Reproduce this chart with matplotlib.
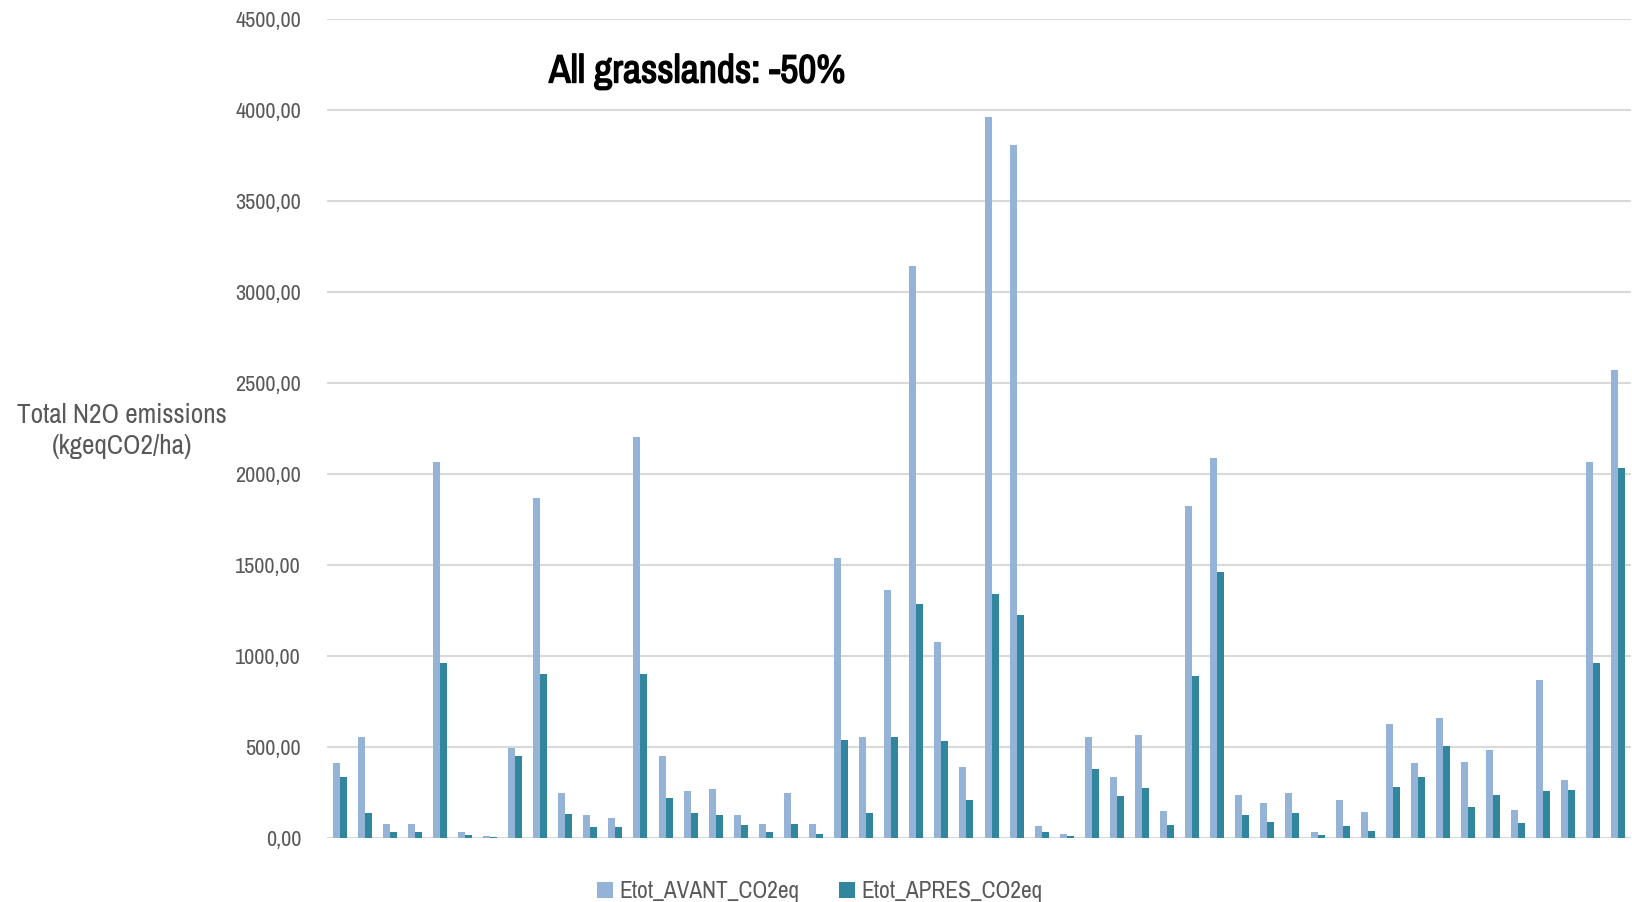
import numpy as np
import matplotlib
matplotlib.use("Agg")
import matplotlib.pyplot as plt
import matplotlib.patheffects as pe
from matplotlib import font_manager as fm
from matplotlib.ticker import FuncFormatter

# Values (kgeqCO2/ha), one pair per parcel
avant = [412, 555, 77, 77, 2070, 33, 13, 498, 1872, 251,
         126, 112, 2206, 451, 262, 273, 128, 77, 249, 79,
         1539, 555, 1365, 3145, 1081, 392, 3962, 3807, 66, 22,
         559, 335, 568, 150, 1827, 2089, 240, 194, 251, 33,
         213, 147, 628, 412, 660, 421, 485, 156, 870, 321,
         2068, 2572]
apres = [335, 137, 35, 35, 964, 16, 5, 454, 903, 134,
         60, 64, 903, 224, 141, 128, 73, 35, 77, 24,
         539, 137, 557, 1286, 535, 211, 1343, 1227, 35, 13,
         379, 231, 277, 75, 890, 1464, 128, 90, 139, 16,
         66, 40, 280, 335, 507, 174, 240, 84, 258, 264,
         964, 2034]
labels = ["Etot_AVANT_CO2eq", "Etot_APRES_CO2eq"]
colors = ["#95B3D7", "#31859C"]

# look for a narrow face, the reference uses a condensed font
fam, stretch = 'Roboto', 'normal'
for f in fm.fontManager.ttflist:
    st = str(f.stretch)
    if 'Condensed' in f.name or 'Narrow' in f.name:
        fam, stretch = f.name, 'normal'
        break
    if 'condensed' in st and f.name in ('DejaVu Sans', 'Roboto', 'Open Sans', 'Noto Sans'):
        fam, stretch = f.name, 'condensed'
plt.rcParams['font.family'] = [fam, 'DejaVu Sans']
plt.rcParams['font.stretch'] = stretch


def is_bold(f):
    wt = f.weight
    if isinstance(wt, str):
        return wt in ('bold', 'demibold', 'semibold')
    return 600 <= wt <= 700


# bold face of the same family only
bold_file = None
for f in fm.fontManager.ttflist:
    if f.name == fam and is_bold(f) and f.style == 'normal':
        bold_file = f.fname
        break

fig = plt.figure(figsize=(16.32, 9.02), dpi=100)
ax = fig.add_axes([327 / 1632, 63.7 / 902, 1304 / 1632, 819 / 902])

x = np.arange(len(avant))
w = 7 / 25.07
ax.bar(x - w / 2, avant, width=w, color=colors[0], label=labels[0], zorder=3)
ax.bar(x + w / 2, apres, width=w, color=colors[1], label=labels[1], zorder=3)

ax.set_xlim(-0.5, len(avant) - 0.5)
ax.set_ylim(0, 4500)
ax.set_yticks(np.arange(0, 4501, 500))
ax.yaxis.set_major_formatter(FuncFormatter(lambda v, p: f"{v:.2f}".replace(".", ",")))
ax.grid(axis='y', color='#D9D9D9', linewidth=1.5, zorder=0)
ax.set_xticks([])
ax.tick_params(axis='y', length=0, pad=17, labelsize=16, labelcolor='#595959')
for s in ax.spines.values():
    s.set_visible(False)

ylab = fig.text(122 / 1632, 1 - 431 / 902, "Total N2O emissions\n(kgeqCO2/ha)", ha='center', va='center',
                fontsize=21, color='#595959', linespacing=1.3)
if bold_file:
    title = fig.text(697 / 1632, 1 - 72 / 902, "All grasslands: -50%", ha='center', va='center',
                     fontproperties=fm.FontProperties(fname=bold_file, size=24), color='black')
else:
    title = fig.text(697 / 1632, 1 - 72 / 902, "All grasslands: -50%", ha='center', va='center',
                     fontsize=24, fontweight='bold', color='black',
                     path_effects=[pe.withStroke(linewidth=1.0, foreground='black')])

leg = fig.legend(loc='center', bbox_to_anchor=(820 / 1632, 1 - 891 / 902), ncol=2, frameon=False,
                 fontsize=16, labelcolor='#595959', handlelength=0.7, handleheight=0.7,
                 handletextpad=0.3, columnspacing=1.8)

# fit texts to the widths seen in the reference
fig.canvas.draw()
r = fig.canvas.get_renderer()
k = min(1.0, 210 / ylab.get_window_extent(r).width)
ylab.set_fontsize(21 * k)
k = min(1.25, 297 / title.get_window_extent(r).width)
title.set_fontsize(24 * k)
lab0 = ax.get_yticklabels()[-1]
k = min(1.0, 68 / lab0.get_window_extent(r).width)
ax.tick_params(axis='y', labelsize=16 * k, pad=17 + (68 - lab0.get_window_extent(r).width * k) * 0.72)
t0 = leg.get_texts()[0]
k = min(1.12, 180 / t0.get_window_extent(r).width)
for t in leg.get_texts():
    t.set_fontsize(16 * k)

fig.savefig("out.png", dpi=100)
